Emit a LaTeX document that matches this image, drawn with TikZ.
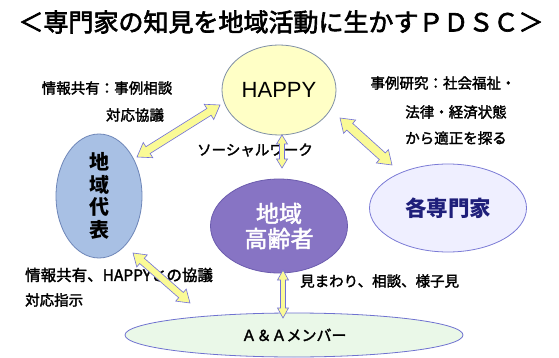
\documentclass[tikz,border=0pt]{standalone}
\usepackage{fontspec}
\setmainfont{Noto Sans CJK JP}
\newfontfamily\latfont{Liberation Sans}
\newfontfamily\lblfont{Noto Sans CJK JP}[FakeBold=2]
\newfontfamily\ttlfont{Noto Sans CJK JP}[FakeBold=2.5]
\usetikzlibrary{shapes.geometric,calc}
\definecolor{happyfill}{HTML}{FFFFC6}
\definecolor{happyline}{HTML}{7F8FA6}
\definecolor{repfill}{HTML}{A8C0E4}
\definecolor{repline}{HTML}{6E86B8}
\definecolor{eldfill}{HTML}{8774C4}
\definecolor{eldline}{HTML}{6C5CAE}
\definecolor{expfill}{HTML}{EFEFFF}
\definecolor{expline}{HTML}{7B7BD6}
\definecolor{exptext}{HTML}{1F1F7A}
\definecolor{aafill}{HTML}{EAF8E8}
\definecolor{aaline}{HTML}{6F72D0}
\definecolor{arrfill}{HTML}{FAFA96}
\definecolor{arrline}{HTML}{7070D8}
% #1 start, #2 end, #3 half shaft, #4 half head, #5 head length, #6 prefix
\newcommand\dblarr[6]{%
  \coordinate (#6a) at ($(#1)!#5!(#2)$);
  \coordinate (#6b) at ($(#2)!#5!(#1)$);
  \draw[arr] (#1) -- ($(#6a)!#4!90:(#2)$) -- ($(#6a)!#3!90:(#2)$)
    -- ($(#6b)!#3!-90:(#1)$) -- ($(#6b)!#4!-90:(#1)$) -- (#2)
    -- ($(#6b)!#4!90:(#1)$) -- ($(#6b)!#3!90:(#1)$)
    -- ($(#6a)!#3!-90:(#2)$) -- ($(#6a)!#4!-90:(#2)$) -- cycle;
}
\begin{document}
\begin{tikzpicture}[x=1pt,y=-1pt,
  blob/.style={ellipse, inner sep=0pt, line width=0.8pt},
  lbl/.style={inner sep=0pt, font=\lblfont\fontsize{14.5}{16}\selectfont},
  arr/.style={fill=arrfill, draw=arrline, line width=0.6pt, line join=miter}]
\useasboundingbox[fill=white] (0,0) rectangle (559,358);
\node[inner sep=0pt, font=\ttlfont\fontsize{25}{28}\selectfont] (title) at (281,22) {＜専門家の知見を地域活動に生かすＰＤＳＣ＞};
\node[blob, fill=happyfill, draw=happyline, minimum width=114pt, minimum height=90pt, font=\latfont\fontsize{22}{24}\selectfont] (happy) at (279,90) {HAPPY};
\node[blob, fill=repfill, draw=repline, minimum width=86pt, minimum height=124pt, align=center, font=\bfseries\fontsize{20}{22.5}\selectfont] (rep) at (99,196) {地\\域\\代\\表};
\node[blob, fill=eldfill, draw=eldline, minimum width=137pt, minimum height=94pt, align=center, text=white, font=\lblfont\fontsize{23}{25}\selectfont] (eld) at (279,226) {地域\\高齢者};
\node[blob, fill=expfill, draw=expline, minimum width=157pt, minimum height=88pt, text=exptext, font=\bfseries\fontsize{21.5}{24}\selectfont] (exp) at (448,208) {各専門家};
\node[blob, fill=aafill, draw=aaline, minimum width=338pt, minimum height=44pt, font=\lblfont\fontsize{15}{17}\selectfont] (aa) at (294,335) {Ａ＆Ａメンバー};
\node[lbl] (l1) at (107,88) {情報共有：事例相談};
\node[lbl] (l2) at (135,115) {対応協議};
\node[lbl] (l3) at (255,150) {ソーシャルワーク};
\node[lbl] (l4) at (443,83) {事例研究：社会福祉・};
\node[lbl] (l5) at (456,112) {法律・経済状態};
\node[lbl] (l6) at (456,138) {から適正を探る};
\node[lbl, anchor=west, font=\lblfont\fontsize{15.5}{17}\selectfont] (l7) at (25,275) {情報共有、HAPPYとの協議};
\node[lbl, anchor=west] (l8) at (25,300) {対応指示};
\node[lbl, anchor=west] (l9) at (300,281) {見まわり、相談、様子見};
\coordinate (a1s) at (220,105); \coordinate (a1e) at (137,157);
\dblarr{a1s}{a1e}{4pt}{9pt}{13pt}{a1}
\coordinate (a2s) at (340,118); \coordinate (a2e) at (392,165);
\dblarr{a2s}{a2e}{4.5pt}{9pt}{13pt}{a2}
\coordinate (a3s) at (282,135); \coordinate (a3e) at (282,168);
\dblarr{a3s}{a3e}{2.5pt}{5.5pt}{9pt}{a3}
\coordinate (a4s) at (133,253); \coordinate (a4e) at (190,303);
\dblarr{a4s}{a4e}{3.5pt}{8pt}{12pt}{a4}
\coordinate (a5s) at (283,270); \coordinate (a5e) at (283,318);
\dblarr{a5s}{a5e}{2.5pt}{5.5pt}{10pt}{a5}
\end{tikzpicture}
\end{document}
